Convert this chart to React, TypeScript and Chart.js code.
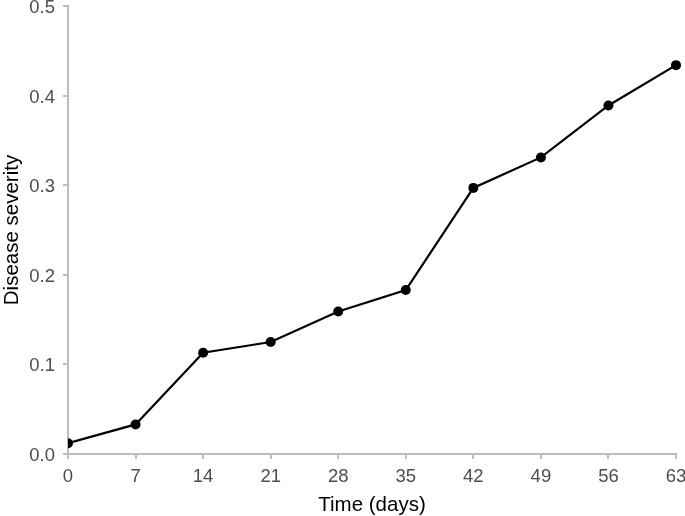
import React, { useEffect, useRef } from "react";
import { Chart, registerables } from "chart.js";

Chart.register(...registerables);

const days = [0, 7, 14, 21, 28, 35, 42, 49, 56, 63];
const severity = [0.012, 0.033, 0.113, 0.125, 0.159, 0.183, 0.297, 0.331, 0.389, 0.434];
const xTicks = [0, 7, 14, 21, 28, 35, 42, 49, 56, 63];
const yTicks = [0, 0.1, 0.2, 0.3, 0.4, 0.5];

const FONT = "Liberation Sans, Arial, sans-serif";

export default function App() {
  const ref = useRef<HTMLCanvasElement | null>(null);
  useEffect(() => {
    document.body.style.margin = "0";
    const ctx = ref.current!;
    const chart = new Chart(ctx, {
      type: "scatter",
      data: {
        datasets: [
          {
            data: days.map((d, i) => ({ x: d, y: severity[i] })),
            showLine: true,
            borderColor: "#000000",
            backgroundColor: "#000000",
            borderWidth: 2.2,
            pointRadius: 5,
            pointHoverRadius: 5,
            pointBorderWidth: 0,
            clip: { left: 0, top: false, right: false, bottom: false } as any,
          },
        ],
      },
      options: {
        responsive: false,
        animation: false,
        layout: { padding: { top: 6, right: 9, left: 0, bottom: 0 } },
        plugins: { legend: { display: false }, tooltip: { enabled: false } },
        scales: {
          x: {
            type: "linear",
            min: 0,
            max: 63,
            afterBuildTicks: (axis: any) => {
              axis.ticks = xTicks.map((v) => ({ value: v }));
            },
            afterFit: (axis: any) => {
              axis.height = 62;
              axis.paddingLeft = 0;
              axis.paddingRight = 0;
            },
            ticks: {
              color: "#4d4d4d",
              font: { family: FONT, size: 18.5 },
              padding: 7,
              maxRotation: 0,
              autoSkip: false,
            },
            grid: {
              display: true,
              drawOnChartArea: false,
              drawTicks: true,
              tickLength: 5,
              color: "#bdbdbd",
              lineWidth: 2,
            },
            border: { display: true, color: "#bdbdbd", width: 2 },
            title: {
              display: true,
              text: "Time (days)",
              color: "#000000",
              font: { family: FONT, size: 20.5 },
              padding: { top: 0, bottom: -2 },
            },
          },
          y: {
            type: "linear",
            min: 0,
            max: 0.5,
            afterBuildTicks: (axis: any) => {
              axis.ticks = yTicks.map((v) => ({ value: v }));
            },
            afterFit: (axis: any) => {
              axis.width = 68;
              axis.paddingTop = 0;
              axis.paddingBottom = 0;
            },
            ticks: {
              color: "#4d4d4d",
              font: { family: FONT, size: 18.5 },
              padding: 8,
              labelOffset: 2,
              callback: (v: any) => Number(v).toFixed(1),
            },
            grid: {
              display: true,
              drawOnChartArea: false,
              drawTicks: true,
              tickLength: 5,
              color: "#bdbdbd",
              lineWidth: 2,
            },
            border: { display: true, color: "#bdbdbd", width: 2 },
            title: {
              display: true,
              text: "Disease severity",
              color: "#000000",
              font: { family: FONT, size: 20.5 },
              padding: { top: 0, bottom: 0 },
            },
          },
        },
      },
    });
    return () => chart.destroy();
  }, []);
  return <canvas ref={ref} width={685} height={516} style={{ display: "block" }} />;
}
